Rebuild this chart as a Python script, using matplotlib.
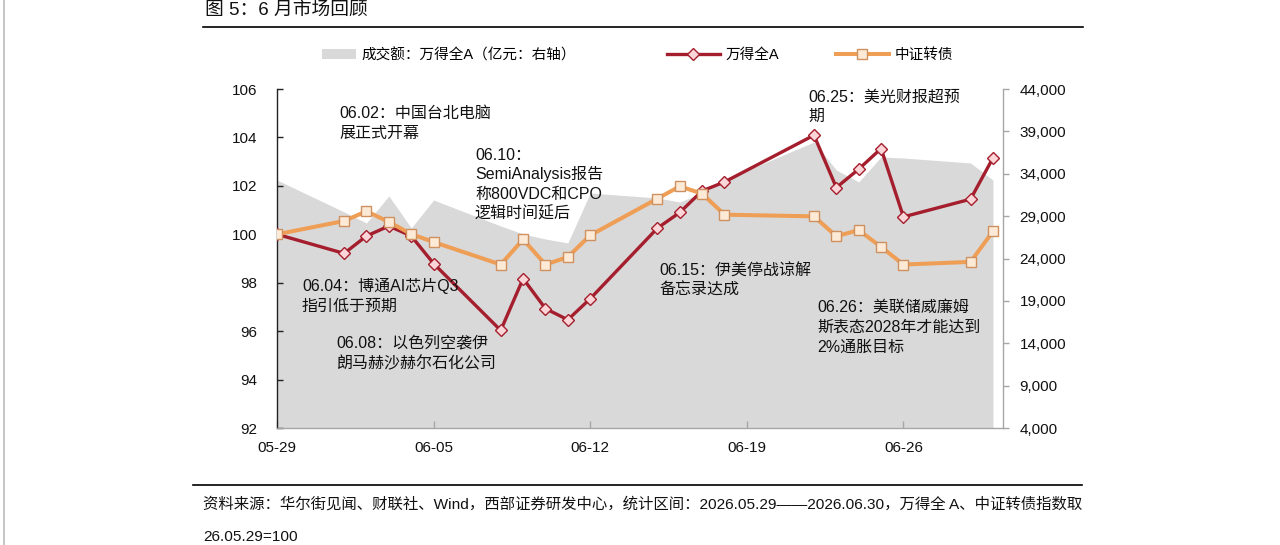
import matplotlib
matplotlib.use('Agg')
import matplotlib.pyplot as plt
import matplotlib.dates as mdates
from matplotlib.lines import Line2D
from matplotlib.patches import Patch
import matplotlib.ticker as mticker
import pandas as pd

# ---------------- data ----------------
dates = ['2026-05-29', '2026-06-01', '2026-06-02', '2026-06-03', '2026-06-04', '2026-06-05',
         '2026-06-08', '2026-06-09', '2026-06-10', '2026-06-11', '2026-06-12',
         '2026-06-15', '2026-06-16', '2026-06-17', '2026-06-18',
         '2026-06-22', '2026-06-23', '2026-06-24', '2026-06-25', '2026-06-26',
         '2026-06-29', '2026-06-30']
wind_a = [100.00, 99.21, 99.93, 100.34, 99.93, 98.79,
          96.03, 98.17, 96.93, 96.47, 97.34,
          100.25, 100.90, 101.79, 102.16,
          104.09, 101.93, 102.69, 103.54, 100.72,
          101.45, 103.15]
cb_index = [100.00, 100.55, 100.95, 100.51, 100.01, 99.68,
            98.75, 99.79, 98.75, 99.06, 99.96,
            101.47, 101.98, 101.68, 100.81,
            100.74, 99.92, 100.17, 99.48, 98.75,
            98.86, 100.12]
turnover = [33260, 29490, 28190, 31380, 27600, 30900,
            27840, 26890, 26300, 25830, 31730,
            31140, 30670, 31730, 33260,
            37750, 34440, 33030, 35980, 35860,
            35270, 33260]
xtick_dates = ['2026-05-29', '2026-06-05', '2026-06-12', '2026-06-19', '2026-06-26']
left_ticks = [92, 94, 96, 98, 100, 102, 104, 106]
right_ticks = [4000, 9000, 14000, 19000, 24000, 29000, 34000, 39000, 44000]

title = '图 5：6 月市场回顾'
legend_labels = ['成交额：万得全A（亿元：右轴）', '万得全A', '中证转债']
annotations = [
    ['06.02：中国台北电脑', '展正式开幕'],
    ['06.10：', 'SemiAnalysis报告', '称800VDC和CPO', '逻辑时间延后'],
    ['06.04：博通AI芯片Q3', '指引低于预期'],
    ['06.08：以色列空袭伊', '朗马赫沙赫尔石化公司'],
    ['06.15：伊美停战谅解', '备忘录达成'],
    ['06.25：美光财报超预', '期'],
    ['06.26：美联储威廉姆', '斯表态2028年才能达到', '2%通胀目标'],
]
footer = ['资料来源：华尔街见闻、财联社、Wind，西部证券研发中心，统计区间：2026.05.29——2026.06.30，万得全 A、中证转债指数取',
          '26.05.29=100']

# ---------------- style ----------------
FAM = ['Liberation Sans', 'Noto Sans CJK SC', 'DejaVu Sans']
plt.rcParams['font.family'] = FAM
RED = '#A51E2D'
RED_FACE = '#FBD5D8'
ORANGE = '#EF9E55'
ORANGE_FACE = '#FDEAD6'
ORANGE_EDGE = '#CF9060'
GRAY = '#D9D9D9'

W, H = 1280, 545
fig = plt.figure(figsize=(W / 100, H / 100), dpi=100)


def fx(px):
    return px / W


def fy(py):
    return 1 - py / H


x = pd.to_datetime(dates)
x0 = pd.Timestamp('2026-05-29')

ax = fig.add_axes([fx(277), fy(428), fx(1003) - fx(277), fy(89) - fy(428)])
ax2 = ax.twinx()
ax.set_zorder(ax2.get_zorder() + 1)
ax.patch.set_visible(False)

# area on right axis
ax2.fill_between(x, 0, turnover, color=GRAY, linewidth=0, zorder=1)
ax2.set_ylim(4000, 44000)
ax2.set_yticks(right_ticks)
ax2.yaxis.set_major_formatter(mticker.FuncFormatter(lambda v, p: f'{int(v):,}'))

# lines on left axis
ax.plot(x, wind_a, color=RED, lw=2.4, marker='D', ms=6, mfc=RED_FACE, mec=RED, mew=1.0, zorder=3)
ax.plot(x, cb_index, color=ORANGE, lw=2.9, marker='s', ms=7.5, mfc=ORANGE_FACE, mec=ORANGE_EDGE, mew=1.0, zorder=4)
ax.set_ylim(92, 106)
ax.set_yticks(left_ticks)
ax.set_xlim(x0, x0 + pd.Timedelta(days=32.45))
ax.set_xticks(pd.to_datetime(xtick_dates))
ax.xaxis.set_major_formatter(mdates.DateFormatter('%m-%d'))

for s in ['top', 'right']:
    ax.spines[s].set_visible(False)
for s in ['top', 'left', 'bottom']:
    ax2.spines[s].set_visible(False)
ax.spines['left'].set_color('#222222')
ax.spines['left'].set_linewidth(1.0)
ax.spines['bottom'].set_color('#A6A6A6')
ax.spines['bottom'].set_linewidth(1.0)
ax2.spines['right'].set_color('#A6A6A6')
ax2.spines['right'].set_linewidth(1.0)

ax.tick_params(axis='y', direction='in', length=4, width=1, color='#222222',
               labelsize=11, pad=14, labelcolor='#111111')
ax.tick_params(axis='x', direction='in', length=5, width=1, color='#A6A6A6',
               labelsize=11, pad=9, labelcolor='#111111')
ax2.tick_params(axis='y', direction='out', length=4, width=1, color='#A6A6A6',
                labelsize=11, pad=8, labelcolor='#111111')

# ---------------- annotations ----------------
ann_pos = [(339, 113), (475, 155), (302, 286), (336, 344), (659, 271), (808, 97), (817, 307)]
line_gap = [20, 19.5, 20, 19.5, 19, 19.5, 20]
for lines, (px, py), g in zip(annotations, ann_pos, line_gap):
    for i, t in enumerate(lines):
        fig.text(fx(px), fy(py + i * g), t, fontsize=11.5, family=FAM,
                 ha='left', va='center', color='#111111')

# ---------------- title, rules, footer ----------------
fig.text(fx(205), fy(11), title, fontsize=13.5, family=FAM, ha='left', va='center', color='#111111')
fig.add_artist(Line2D([fx(203), fx(1083)], [fy(27), fy(27)], color='black', lw=1.2))
fig.add_artist(Line2D([fx(193), fx(1082)], [fy(485), fy(485)], color='black', lw=1.2))
fig.text(fx(203), fy(504), footer[0], fontsize=11.1, family=FAM, ha='left', va='center', color='#111111')
fig.text(fx(203), fy(537), footer[1], fontsize=11.1, family=FAM, ha='left', va='center', color='#111111')
fig.add_artist(Line2D([fx(4), fx(4)], [0, 1], color='#BBBBBB', lw=1.2))

# ---------------- legend ----------------
h_area = Patch(facecolor=GRAY, edgecolor='none')
h_red = Line2D([], [], color=RED, lw=2.4, marker='D', ms=6, mfc=RED_FACE, mec=RED, mew=1.0)
h_or = Line2D([], [], color=ORANGE, lw=2.9, marker='s', ms=7.5, mfc=ORANGE_FACE, mec=ORANGE_EDGE, mew=1.0)
leg_specs = [(h_area, legend_labels[0], 322, 2.3, 0.75),
             (h_red, legend_labels[1], 667, 3.6, 0.7),
             (h_or, legend_labels[2], 836, 3.6, 0.7)]
for h, lab, px, hl, hh in leg_specs:
    fig.legend([h], [lab], loc='center left', bbox_to_anchor=(fx(px), fy(55)),
               bbox_transform=fig.transFigure, frameon=False, fontsize=10.5,
               borderpad=0, borderaxespad=0, handlelength=hl, handleheight=hh,
               handletextpad=0.4)

fig.savefig('out.png', dpi=100)
